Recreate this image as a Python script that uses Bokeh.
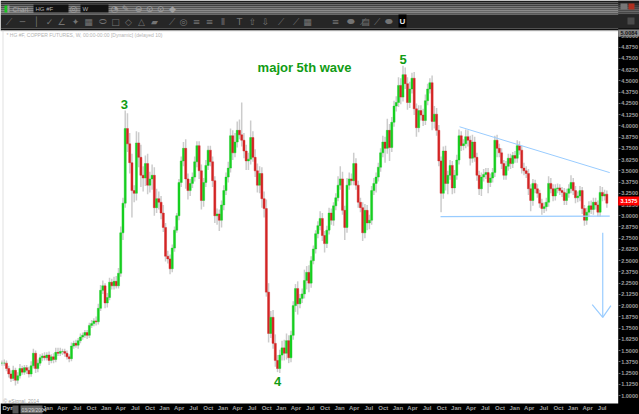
from bokeh.plotting import figure
from bokeh.models import ColumnDataSource, FixedTicker, BoxAnnotation, Label, NumeralTickFormatter
from bokeh.core.properties import value
from bokeh.embed import file_html
from bokeh.resources import INLINE

first_bar_year = 2004.215
bar_step_years = 0.03839

closes = [
 1.36,1.36,1.30,1.24,1.19,1.28,1.17,1.22,1.30,1.26,
 1.31,1.28,1.24,1.33,1.47,1.30,1.36,1.42,1.44,1.42,
 1.45,1.39,1.43,1.40,1.48,1.47,1.49,1.49,1.47,1.43,
 1.41,1.55,1.58,1.56,1.61,1.65,1.67,1.70,1.67,1.78,
 1.80,1.83,1.82,1.97,2.17,2.22,2.03,2.09,2.26,2.22,
 2.27,2.22,2.36,2.81,3.14,3.97,3.80,3.59,3.28,3.25,
 3.81,3.65,3.45,3.42,3.58,3.34,3.41,3.45,3.09,3.19,
 3.15,3.03,2.87,2.55,2.52,2.41,2.64,2.84,3.00,3.37,
 3.61,3.75,3.41,3.28,3.36,3.43,3.60,3.78,3.50,3.17,
 3.37,3.56,3.73,3.60,3.39,3.00,3.02,2.95,3.12,3.28,
 3.43,3.53,3.89,3.70,3.82,3.95,3.90,3.84,3.72,3.61,
 3.63,3.87,3.65,3.50,3.34,3.47,3.19,3.08,2.15,1.69,
 1.87,1.58,1.39,1.30,1.45,1.53,1.47,1.61,1.42,1.67,
 2.00,2.19,2.02,2.08,2.13,2.28,2.37,2.25,2.50,2.63,
 2.80,2.89,2.97,2.78,2.69,2.84,3.03,2.95,3.11,3.20,
 3.34,3.41,3.06,2.87,3.34,3.41,3.39,3.58,3.34,3.15,
 3.09,2.81,3.06,2.92,2.95,3.28,3.36,3.43,3.54,3.70,
 3.82,3.75,3.95,3.76,4.04,4.22,4.26,4.45,4.32,4.57,
 4.47,4.26,4.41,4.53,4.19,3.98,4.17,4.12,4.06,4.28,
 4.41,4.48,4.05,4.13,3.95,3.61,3.25,3.72,3.36,3.45,
 3.56,3.31,3.45,3.62,3.89,3.78,3.80,3.88,3.84,3.64,
 3.82,3.65,3.45,3.30,3.43,3.46,3.48,3.37,3.42,3.48,
 3.84,3.75,3.70,3.58,3.45,3.55,3.64,3.58,3.67,3.64,
 3.78,3.73,3.53,3.50,3.47,3.30,3.17,3.36,3.30,3.25,
 3.14,3.08,3.10,3.15,3.36,3.30,3.22,3.30,3.31,3.28,
 3.26,3.17,3.25,3.30,3.37,3.28,3.20,3.22,3.28,3.08,
 2.95,3.04,3.11,3.07,3.15,3.12,3.04,3.26,3.22,3.24,3.14,
]
upper_wicks = [
 .03,.04,.03,.03,.04,.05,.03,.04,.05,.03,
 .03,.03,.04,.05,.05,.03,.04,.04,.03,.04,
 .03,.04,.03,.04,.05,.05,.04,.03,.03,.03,
 .03,.04,.03,.04,.03,.04,.03,.03,.03,.03,
 .04,.03,.05,.05,.06,.06,.03,.05,.05,.04,
 .05,.06,.06,.07,.06,.20,.17,.12,.10,.06,
 .13,.12,.14,.10,.09,.11,.08,.12,.09,.11,
 .08,.07,.09,.05,.06,.05,.04,.04,.03,.04,
 .05,.07,.10,.06,.05,.05,.06,.05,.05,.07,
 .05,.06,.05,.05,.06,.05,.06,.05,.05,.06,
 .05,.07,.08,.06,.10,.10,.12,.36,.08,.07,
 .07,.19,.07,.09,.08,.08,.07,.08,.10,.10,
 .07,.08,.10,.06,.06,.08,.09,.08,.06,.05,
 .05,.05,.08,.05,.06,.12,.07,.08,.05,.04,
 .04,.05,.08,.06,.05,.05,.06,.05,.04,.05,
 .10,.14,.08,.05,.08,.07,.06,.12,.06,.05,
 .05,.06,.07,.06,.06,.05,.06,.05,.05,.05,
 .07,.06,.13,.07,.06,.06,.07,.09,.08,.10,
 .08,.07,.08,.06,.07,.06,.06,.06,.07,.07,
 .06,.05,.08,.09,.07,.06,.05,.05,.06,.05,
 .06,.05,.06,.06,.07,.05,.05,.08,.07,.05,
 .08,.06,.05,.05,.05,.06,.05,.05,.05,.05,
 .05,.06,.05,.05,.04,.06,.05,.05,.04,.05,
 .06,.05,.05,.06,.05,.05,.05,.05,.04,.05,
 .04,.05,.05,.05,.08,.06,.05,.05,.05,.04,
 .04,.05,.05,.05,.08,.05,.05,.05,.05,.04,
 .04,.05,.05,.06,.05,.05,.05,.07,.06,.05,.04,
]
lower_wicks = [
 .03,.03,.03,.04,.04,.03,.06,.04,.03,.03,
 .03,.04,.04,.03,.03,.05,.04,.03,.04,.03,
 .03,.05,.03,.04,.03,.03,.03,.04,.04,.03,
 .04,.03,.03,.03,.04,.03,.03,.03,.04,.03,
 .03,.03,.04,.03,.03,.04,.06,.05,.03,.04,
 .04,.03,.03,.04,.08,.05,.09,.12,.30,.10,
 .08,.11,.13,.15,.09,.10,.08,.12,.09,.06,
 .08,.07,.05,.06,.05,.06,.04,.04,.03,.05,
 .05,.06,.11,.10,.06,.05,.05,.06,.09,.10,
 .07,.05,.05,.05,.07,.08,.10,.12,.08,.06,
 .05,.06,.05,.08,.05,.06,.05,.07,.08,.10,
 .10,.06,.05,.07,.08,.09,.10,.10,.05,.10,
 .05,.06,.07,.04,.05,.06,.08,.07,.06,.05,
 .05,.07,.12,.05,.05,.05,.10,.10,.05,.04,
 .05,.05,.05,.06,.10,.05,.05,.05,.06,.05,
 .04,.05,.05,.14,.06,.05,.05,.05,.05,.06,
 .05,.09,.06,.08,.07,.05,.05,.10,.05,.05,
 .05,.16,.06,.15,.05,.05,.06,.05,.08,.05,
 .06,.08,.06,.05,.07,.10,.05,.06,.06,.05,
 .05,.05,.10,.08,.06,.06,.21,.06,.08,.12,
 .05,.07,.06,.05,.05,.06,.05,.05,.07,.08,
 .05,.05,.06,.07,.08,.05,.05,.12,.05,.05,
 .05,.10,.05,.06,.05,.05,.05,.06,.05,.05,
 .05,.05,.06,.05,.05,.07,.12,.06,.05,.05,
 .05,.07,.05,.05,.05,.05,.06,.05,.05,.05,
 .05,.05,.05,.05,.05,.05,.06,.05,.06,.06,
 .06,.05,.05,.05,.06,.05,.05,.05,.06,.05,.05,
]
price_ticks = [1.0,1.125,1.25,1.375,1.5,1.625,1.75,1.875,2.0,2.125,2.25,2.375,2.5,2.625,2.75,2.875,
               3.0,3.125,3.25,3.375,3.5,3.625,3.75,3.875,4.0,4.125,4.25,4.375,4.5,4.625,4.75,4.875,5.0]
month_labels = ["Jan","Apr","Jul","Oct"]
tick_years = list(range(2005, 2015))

year_left, year_right = 2004.189, 2015.14
price_bottom, price_top = 0.7886, 5.395
axis_year, axis_price = 2014.775, 0.911

xs = [first_bar_year + i*bar_step_years for i in range(len(closes))]
opens = [closes[0]] + closes[:-1]
highs = [max(o,c)+u for o,c,u in zip(opens,closes,upper_wicks)]
lows = [min(o,c)-l for o,c,l in zip(opens,closes,lower_wicks)]
cols = ["#16cf20" if c>=o else "#d42424" for o,c in zip(opens,closes)]
src = ColumnDataSource(dict(x=xs,o=opens,c=closes,h=highs,l=lows,col=cols))

p = figure(width=639,height=414,x_range=(year_left,year_right),y_range=(price_bottom,price_top),
           output_backend="svg",toolbar_location=None,y_axis_location="right",
           min_border_left=0,min_border_top=0,min_border_right=0,min_border_bottom=0,
           background_fill_color="white",border_fill_color="#000000",outline_line_color=None)
p.grid.visible=False

def cbox(l,t,r,b,c,alpha=1,level="overlay"):
    p.add_layout(BoxAnnotation(left=l,right=r,top=t,bottom=b,left_units="canvas",right_units="canvas",
        top_units="canvas",bottom_units="canvas",fill_color=c,fill_alpha=alpha,line_color=None,level=level))
def ctext(x,y,t,c="#9a9a9a",fs="7px",bold=False,align="left"):
    p.add_layout(Label(x=x,y=y,x_units="canvas",y_units="canvas",text=t,text_color=c,text_font_size=fs,
        text_font="Liberation Sans",text_align=align,text_baseline="middle",
        text_font_style="bold" if bold else "normal",level="overlay"))

cbox(617.7,0,639,414,"#000000",level="underlay")
cbox(0,403,639,414,"#000000",level="underlay")

xt={}
for yr in tick_years:
    for q,m in enumerate(month_labels):
        if yr==2014 and q==3: continue
        xt[yr+q*0.25]=m
ax=p.xaxis[0]
ax.fixed_location=axis_price
ax.ticker=FixedTicker(ticks=list(xt.keys()))
ax.major_label_overrides=xt
ax.axis_line_color=None; ax.major_tick_line_color=None; ax.minor_tick_line_color=None
ax.major_label_text_color="#a0a0a0"; ax.major_label_text_font="Liberation Sans"
ax.major_label_text_font_size="6px"; ax.major_label_text_font_style="bold"
ax.major_label_standoff=2; ax.major_tick_out=0; ax.minor_tick_out=0

ay=p.yaxis[0]
ay.fixed_location=axis_year
ay.ticker=FixedTicker(ticks=price_ticks)
ay.formatter=NumeralTickFormatter(format="0.0000")
ay.axis_line_color=None; ay.major_tick_line_color="#666666"; ay.minor_tick_line_color=None
ay.major_tick_out=2; ay.major_tick_in=0; ay.minor_tick_out=0
ay.major_label_text_color="#a0a0a0"; ay.major_label_text_font="Liberation Sans"
ay.major_label_text_font_size="5.5px"; ay.major_label_text_font_style="bold"
ay.major_label_standoff=1

p.segment("x","h","x","l",source=src,line_color="#cccccc",line_width=1.5)
p.vbar(x="x",bottom="o",top="c",width=bar_step_years*0.92,source=src,fill_color="col",line_color="col",line_width=0.4)

blue="#99ccff"
p.line([2012.056,2014.63],[3.99,3.48],line_color=blue,line_width=1)
p.line([2011.73,2014.63],[2.99,2.995],line_color=blue,line_width=1.2)
p.line([2014.51,2014.51],[2.81,1.87],line_color=blue,line_width=1.2)
p.line([2014.33,2014.51,2014.65],[2.01,1.87,2.00],line_color=blue,line_width=1.2)

green="#119c14"
for t,xv,yv in [("3",2006.31,4.24),("4",2008.94,1.156),("5",2011.09,4.74)]:
    p.text([xv],[yv],text=[t],text_color=green,text_font=value("Liberation Sans"),text_font_style="bold",
           text_font_size="13px",text_align="center",text_baseline="middle")
p.text([2009.4],[4.65],text=["major 5th wave"],text_color=green,text_font=value("Liberation Sans"),
       text_font_style="bold",text_font_size="13px",text_align="center",text_baseline="middle")

for i,c in enumerate(["#1a1a1a","#2e2e2e","#404040","#505050","#5e5e5e","#686868","#5a5a5a"]):
    cbox(0,i*2,639,i*2+2,c)
cbox(0,14,639,28,"#262626")
cbox(0,28,639,30,"#111111")
cbox(4,5,7,12,"#18c820"); cbox(7,5,9,12,"#9a9a9a")
ctext(12,8.5,"Chart","#a8a8a8","6.5px")
cbox(33,4,68,12,"#121212"); ctext(35,8.5,"HG #F","#b0b0b0","6px")
cbox(80,4,108,12,"#121212"); ctext(82,8.5,"W","#b0b0b0","6px")
icons_top=[(73,"◎"),(114,"◔"),(125,"✎"),(138,"⊖"),(149,"⊙"),(160,"⊙"),(172,"◆")]
for x,t in icons_top:
    p.add_layout(Label(x=x,y=8.5,x_units="canvas",y_units="canvas",text=t,text_color="#a0a0a0",text_font_size="9px",
                 text_font="DejaVu Sans",text_align="center",text_baseline="middle",level="overlay"))
icons=[(8,"⟋"),(22,"─"),(36,"│"),(49,"✓"),(61,"∠"),(75,"✦"),(88,"▦"),(102,"⬭"),(115,"□"),(128,"◇"),(141,"△"),(154,"▰"),
       (171,"⟋"),(183,"◎"),(196,"≡"),(209,"≡"),(222,"⦀"),(239,"T"),(252,"⇧"),(265,"⇩"),(280,"⟋"),(295,"⟋"),(307,"▦"),
       (335,"≡"),(350,"⬬"),(365,"▤"),(362,"⟋"),(376,"⟋"),(388,"⬬")]
for x,t in icons:
    p.add_layout(Label(x=x,y=21,x_units="canvas",y_units="canvas",text=t,text_color="#747474",text_font_size="9px",
                 text_font="DejaVu Sans",text_align="center",text_baseline="middle",level="overlay"))
cbox(398,14,406,27,"#000000"); ctext(402,21,"U","#e8e8e8","8px",True,"center")
cbox(627,17,634,24,"#4a4a4a")
cbox(620,3,627,9,"#777777"); cbox(628,3,634,9,"#b03020")

cbox(0,30,617.7,31,"#d8d8d8",0.8); cbox(2,30,3,403,"#d8d8d8",0.8)
ctext(6,34.5,"* HG #F, COPPER FUTURES, W, 00:00-00:00 [Dynamic] (delayed 10)","#b4b4b4","5px")
ctext(3,400,"© eSignal, 2014","#a0a0a0","5px")
cbox(20,405,42,413,"#666666"); ctext(21,409,"03/29/2004","#d8d8d8","5px")
ctext(2,407.5,"Dyn","#c0c0c0","6px",True)
cbox(12,405,18,413,"#555555")
cbox(617.7,29,639,36,"#888888"); ctext(620,32.5,"5.0084","#111111","5.5px",True)
cbox(617.7,196,639,205,"#ff0000"); ctext(620,200.5,"3.1575","#ffffff","5.5px",True)

open("out.html","w").write(file_html(p,INLINE))
